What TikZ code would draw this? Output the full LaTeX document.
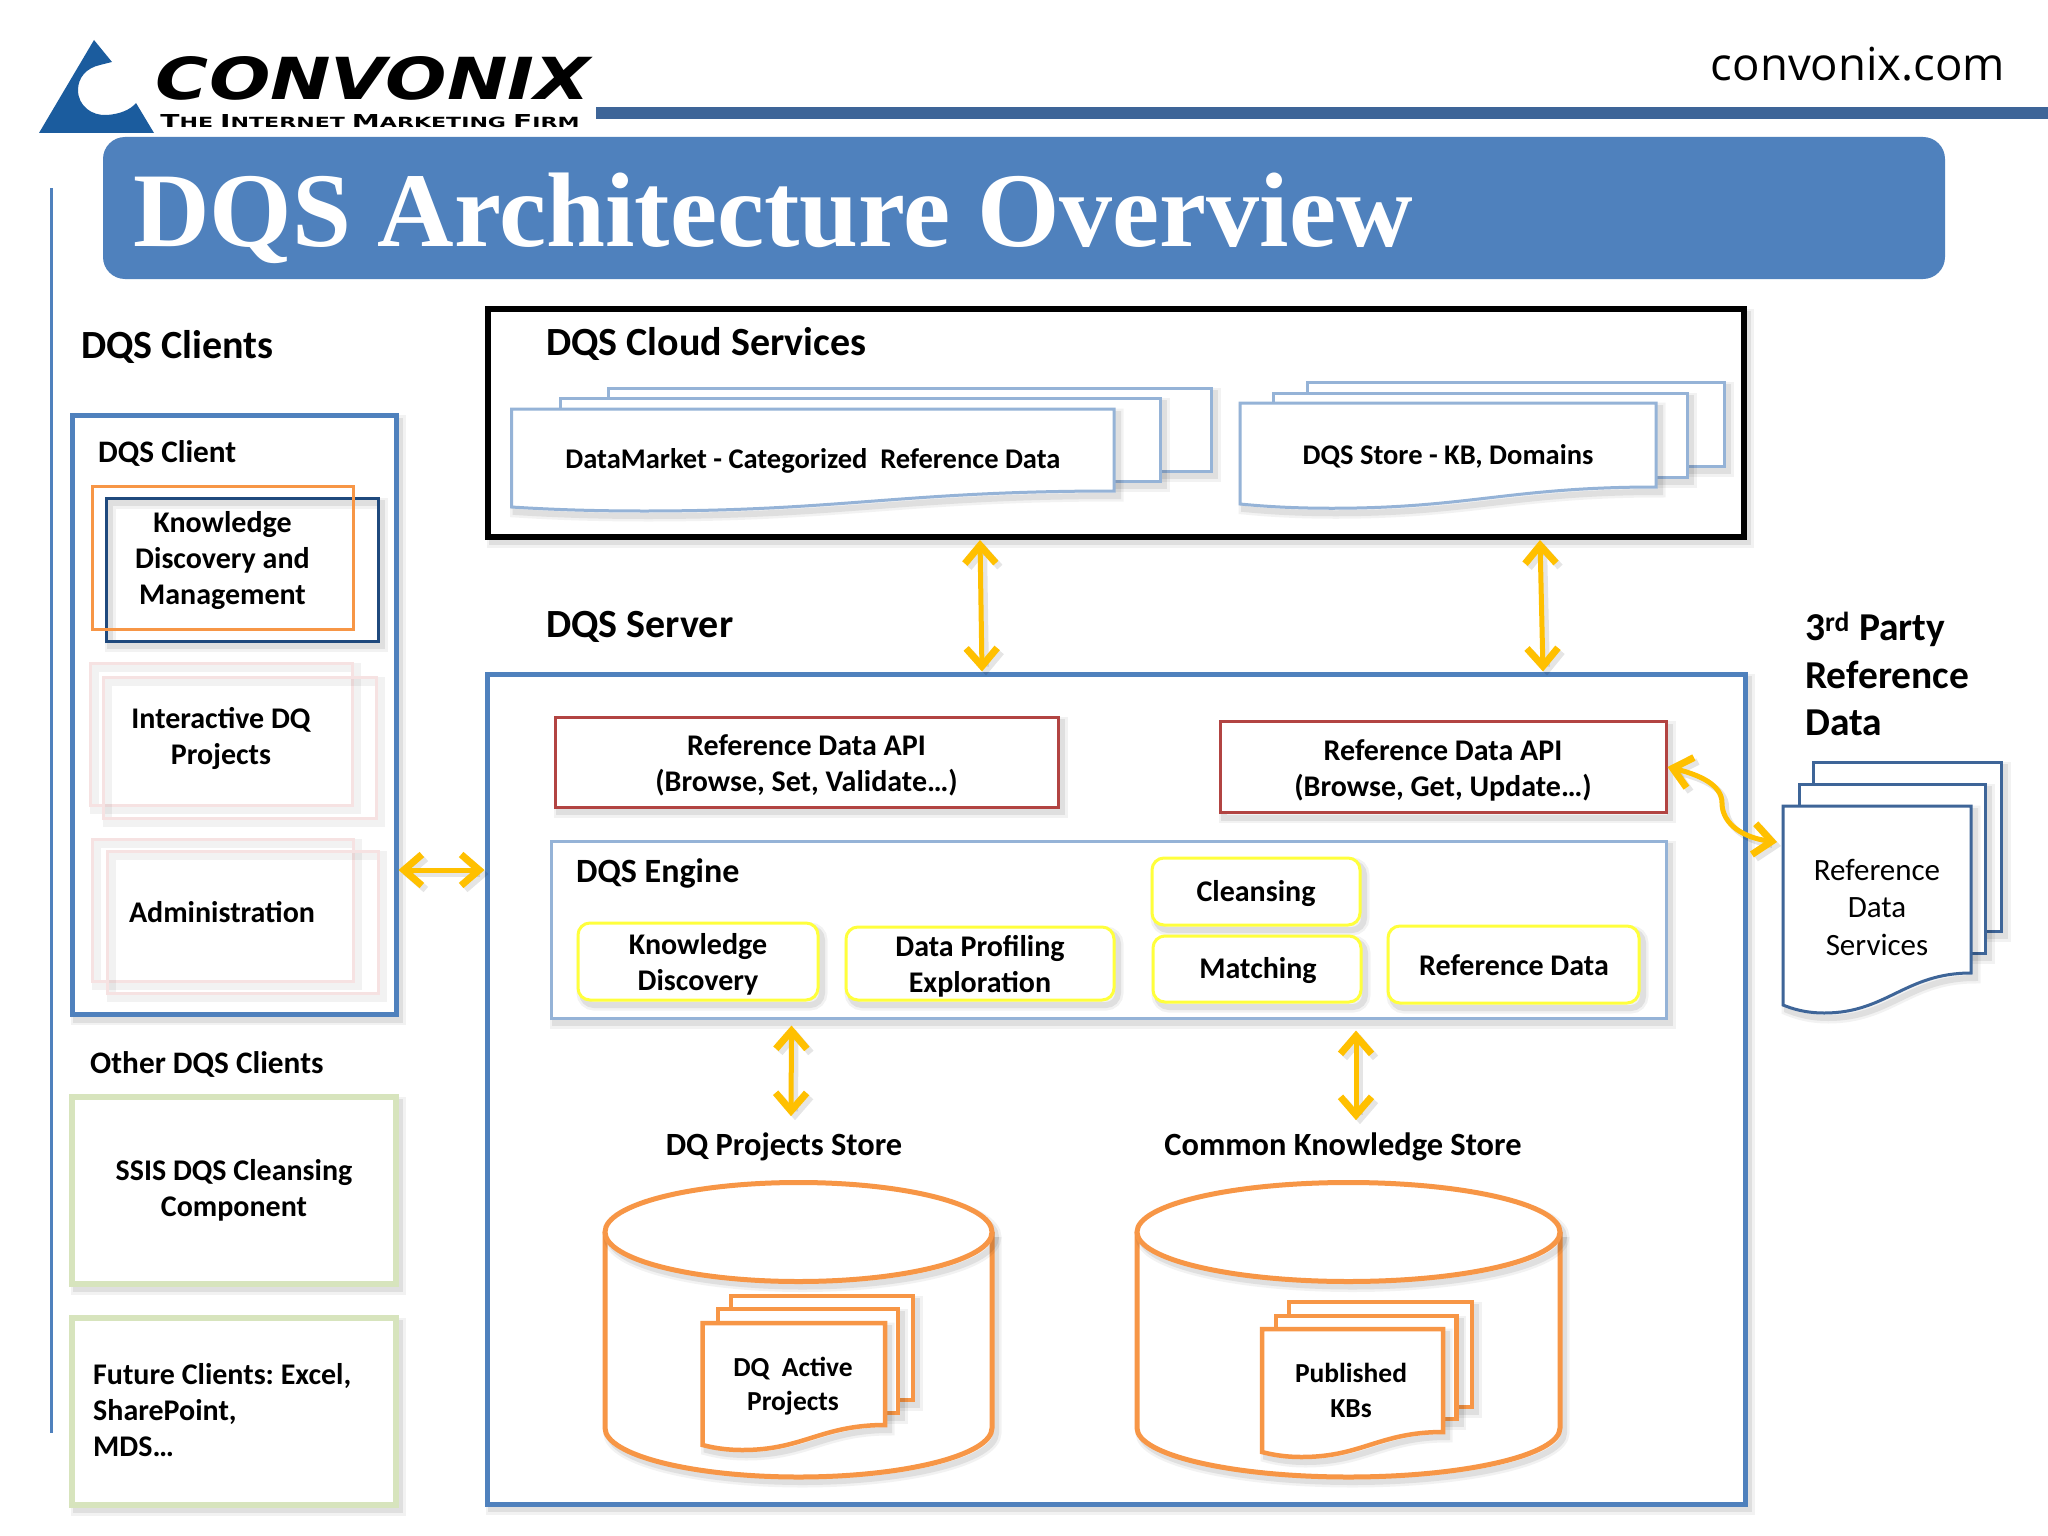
\documentclass[tikz,border=0pt]{standalone}
\usepackage{fontspec}
\setmainfont{Carlito}
\newfontfamily\titlefont{Liberation Serif}
\newfontfamily\sitefont{Open Sans}
\newfontfamily\logofont{DejaVu Sans}
\usetikzlibrary{arrows.meta}
\definecolor{B}{RGB}{79, 129, 189}
\definecolor{H}{RGB}{62, 101, 152}
\definecolor{N}{RGB}{31, 73, 125}
\definecolor{L}{RGB}{149, 179, 215}
\definecolor{O}{RGB}{247, 150, 70}
\definecolor{R}{RGB}{178, 68, 66}
\definecolor{Y}{RGB}{255, 255, 60}
\definecolor{G}{RGB}{215, 228, 189}
\definecolor{P}{RGB}{246, 226, 226}
\definecolor{A}{RGB}{255, 192, 0}
\definecolor{T}{RGB}{27, 92, 158}
\tikzset{
  softshade/.style={
    preaction={draw=black,draw opacity=.05,line width=11pt,transform canvas={xshift=4pt,yshift=-5pt}},
    preaction={draw=black,draw opacity=.08,line width=6pt,transform canvas={xshift=4pt,yshift=-5pt}}},
  paleshade/.style={
    preaction={draw=black,draw opacity=.05,line width=9pt,transform canvas={xshift=4pt,yshift=-4pt}}},
  headlbl/.style={font=\bfseries\fontsize{40}{47}\selectfont,inner sep=0pt,anchor=west,align=left},
  sublbl/.style={font=\bfseries\fontsize{31.3}{38}\selectfont,inner sep=0pt},
  storelbl/.style={font=\bfseries\fontsize{32.4}{38}\selectfont,inner sep=0pt},
  boxlbl/.style={font=\bfseries\fontsize{30}{36}\selectfont,align=center,inner sep=0pt},
  doclbl/.style={font=\bfseries\fontsize{28.5}{34}\selectfont,align=center,inner sep=0pt},
  framebox/.style={draw=B,line width=5pt,softshade,fill=white},
  clientpage/.style={draw=P,line width=3pt,paleshade},
  greenbox/.style={draw=G,line width=6pt,softshade,fill=white},
  apibox/.style={draw=R,line width=3pt,softshade,fill=white},
  yellowbox/.style={draw=Y,line width=3pt,rounded corners=12pt,softshade,fill=white},
  lightsheet/.style={draw=L,line width=3pt,softshade,fill=white},
  navysheet/.style={draw=H,line width=3pt,softshade,fill=white},
  orangesheet/.style={draw=O,line width=4.5pt,softshade,fill=white},
  storeline/.style={draw=O,line width=5pt,softshade,fill=white},
  bothways/.style={draw=A,line width=5pt,line cap=round,
    preaction={draw=black,draw opacity=.1,line width=6pt,transform canvas={xshift=4pt,yshift=-4pt}},
    {Straight Barb[length=18pt,width=31pt,line width=7pt]}-{Straight Barb[length=18pt,width=31pt,line width=7pt]}}
}
\newcommand{\docfront}[6]{
  \draw[#1] (#2,#3) -- (#4,#3) -- (#4,#5)
    .. controls (#2+.65*#4-.65*#2,#5) and (#2+.55*#4-.55*#2,#6+.25*#6-.25*#5) .. (#2+.22*#4-.22*#2,#6+.25*#6-.25*#5)
    .. controls (#2+.12*#4-.12*#2,#6+.25*#6-.25*#5) and (#2+.05*#4-.05*#2,#6+.12*#6-.12*#5) .. (#2,#6) -- cycle;
}
\newcommand{\storecyl}[2]{
  \draw[storeline] (#1-#2,1232) -- (#1-#2,1428)
    .. controls (#1-#2,1455) and (#1-.55*#2,1477) .. (#1,1477)
    .. controls (#1+.55*#2,1477) and (#1+#2,1455) .. (#1+#2,1428) -- (#1+#2,1232);
  \draw[storeline] (#1,1232) ellipse [x radius=#2,y radius=49.5];
}
\newcommand{\tagword}[2]{{\fontsize{14}{14}\selectfont #1}{\fontsize{11}{11}\selectfont #2}}
\begin{document}
\frenchspacing
\begin{tikzpicture}[x=1pt,y=-1pt]
  \useasboundingbox[fill=white] (0,0) rectangle (2048,1536);
  \fill[T] (94,40) -- (112,62) -- (100,65) .. controls (86,68) and (78,78) .. (78,90)
    .. controls (78,106) and (92,116) .. (107,115) .. controls (120,114) and (130,110) .. (136,103) -- (154,133) -- (39,133) -- cycle;
  \node[inner sep=0pt] (logotext) at (373,78) {\resizebox{434pt}{43pt}{\logofont\bfseries\itshape CONVONIX}};
  \node[inner sep=0pt] (logotag) at (370,121) {\resizebox{419pt}{13pt}{\logofont\bfseries\tagword{T}{HE} \tagword{I}{NTERNET} \tagword{M}{ARKETING} \tagword{F}{IRM}}};
  \fill[H] (596,107) rectangle (2048,119);
  \node[font=\sitefont\fontsize{45.5}{50}\selectfont,inner sep=0pt] (site) at (1858,64) {convonix.com};
  \draw[B,line width=3pt] (51,188) -- (51,1433);
  \fill[B,rounded corners=22pt] (103,137) rectangle (1945,279);
  \node[font=\titlefont\bfseries\fontsize{106}{120}\selectfont,text=white,inner sep=0pt,anchor=west] (title) at (133,218) {DQS Architecture Overview};

  \node[headlbl] (clientshead) at (81,346.5) {DQS Clients};
  \node[framebox,minimum width=324pt,minimum height=599pt] (clientbox) at (234,715) {};
  \node[sublbl,anchor=west] (clienthead) at (98,453.5) {DQS Client};
  \node[draw=N,line width=3pt,softshade,minimum width=272pt,minimum height=143pt] (kdmback) at (242,569.5) {};
  \node[draw=O,line width=3pt,minimum width=261pt,minimum height=143pt] (kdm) at (222.5,557.5) {};
  \node[boxlbl] (kdmlbl) at (222.5,561) {Knowledge\\Discovery and\\Management};
  \node[clientpage,minimum width=262pt,minimum height=142pt] (idqa) at (221,734) {};
  \node[clientpage,minimum width=273pt,minimum height=141pt] (idqb) at (239.5,747.5) {};
  \node[boxlbl] (idqlbl) at (221,738) {Interactive DQ\\Projects};
  \node[clientpage,minimum width=261pt,minimum height=142pt] (adma) at (222.5,910) {};
  \node[clientpage,minimum width=271pt,minimum height=142pt] (admb) at (242.5,922) {};
  \node[boxlbl] (admlbl) at (222,912) {Administration};

  \node[sublbl,anchor=west] (otherhead) at (90,1064) {Other DQS Clients};
  \node[greenbox,boxlbl,minimum width=324pt,minimum height=187pt] (ssis) at (234,1190.5) {SSIS DQS Cleansing\\Component};
  \node[greenbox,minimum width=324pt,minimum height=187pt] (future) at (234,1411.5) {};
  \node[boxlbl,align=left,anchor=west] (futurelbl) at (93,1410.5) {Future Clients: Excel,\\SharePoint,\\MDS\ldots};

  \node[draw=black,line width=6pt,softshade,fill=white,minimum width=1256pt,minimum height=228pt] (cloudbox) at (1116,423) {};
  \node[headlbl] (cloudhead) at (546,343.5) {DQS Cloud Services};
  \foreach \l/\t/\r/\b in {608/388/1211/471,560/398/1160/481,1307/382/1724/466,1273.5/393/1687/477}
    \draw[lightsheet] (\l,\t) rectangle (\r,\b);
  \docfront{lightsheet}{511.5}{409}{1114}{491}{507}
  \docfront{lightsheet}{1240}{403}{1656}{487}{504}
  \node[doclbl] (marketlbl) at (813,461) {DataMarket - Categorized\ \ Reference Data};
  \node[doclbl] (kbstorelbl) at (1448,456) {DQS Store - KB, Domains};

  \node[headlbl] (serverhead) at (546,626.5) {DQS Server};
  \node[framebox,minimum width=1258pt,minimum height=830pt] (serverbox) at (1116,1089) {};
  \node[apibox,minimum width=503pt,minimum height=90pt] (apileft) at (806.5,762) {};
  \node[boxlbl] (apileftlbl) at (806.5,765) {Reference Data API\\(Browse, Set, Validate\ldots)};
  \node[apibox,minimum width=446pt,minimum height=91pt] (apiright) at (1443,767) {};
  \node[boxlbl] (apirightlbl) at (1443,770.5) {Reference Data API\\(Browse, Get, Update\ldots)};
  \node[lightsheet,minimum width=1115pt,minimum height=177pt] (enginebox) at (1108.5,929.5) {};
  \node[headlbl,font=\bfseries\fontsize{34}{40}\selectfont] (enginehead) at (576,873.5) {DQS Engine};
  \node[yellowbox,minimum width=240pt,minimum height=77pt] (kdisc) at (698,961.5) {};
  \node[boxlbl] (kdisclbl) at (698,964) {Knowledge\\Discovery};
  \node[yellowbox,minimum width=268pt,minimum height=73pt] (dprof) at (980,963.5) {};
  \node[boxlbl] (dproflbl) at (980,966) {Data Profiling\\Exploration};
  \node[yellowbox,minimum width=208pt,minimum height=67pt] (cleans) at (1256,891.5) {};
  \node[boxlbl] (cleanslbl) at (1256,894) {Cleansing};
  \node[yellowbox,minimum width=208pt,minimum height=66pt] (match) at (1257,969) {};
  \node[boxlbl] (matchlbl) at (1258,971) {Matching};
  \node[yellowbox,minimum width=251pt,minimum height=77pt] (refdata) at (1513.5,964.5) {};
  \node[boxlbl] (refdatalbl) at (1514,965.5) {Reference Data};

  \node[storelbl] (dqstorelbl) at (784,1146.5) {DQ Projects Store};
  \node[storelbl] (ckstorelbl) at (1343,1146.5) {Common Knowledge Store};
  \storecyl{798.5}{193.5}
  \storecyl{1348.5}{211.5}
  \foreach \l/\t/\r/\b in {731/1296/913/1400,718/1309/898/1413,1289/1302/1472/1407,1276/1316/1456.5/1419}
    \draw[orangesheet] (\l,\t) rectangle (\r,\b);
  \docfront{orangesheet}{702.6}{1323}{885}{1425}{1445}
  \docfront{orangesheet}{1262}{1329}{1443}{1432}{1452}
  \node[doclbl,font=\bfseries\fontsize{27.5}{34}\selectfont] (activelbl) at (793,1386) {DQ\ \ Active\\Projects};
  \node[doclbl,font=\bfseries\fontsize{27.5}{35}\selectfont] (publishedlbl) at (1351,1390.5) {Published\\KBs};

  \node[headlbl,font=\bfseries\fontsize{39.5}{47.5}\selectfont] (partyhead) at (1805,674) {3\textsuperscript{rd} Party\\Reference\\Data};
  \foreach \l/\t/\r/\b in {1813/762/2001/931,1799/784/1985/953}
    \draw[navysheet] (\l,\t) rectangle (\r,\b);
  \docfront{navysheet}{1783}{806}{1971}{973}{1005}
  \node[font=\fontsize{31}{37.5}\selectfont,align=center,inner sep=0pt] (svclbl) at (1877,907) {Reference\\Data\\Services};
  \coordinate (svcport) at (1777,842);

  \draw[bothways] ([yshift=-155pt]clientbox.east) -- ([yshift=219pt]serverbox.west);
  \draw[bothways] ([xshift=-136pt]cloudbox.south) -- ([xshift=-134pt]serverbox.north);
  \draw[bothways] ([xshift=424pt]cloudbox.south) -- ([xshift=427pt]serverbox.north);
  \draw[bothways] ([shift={(-317pt,-6pt)}]enginebox.south) -- ([shift={(7pt,16pt)}]dqstorelbl.north);
  \draw[bothways] ([shift={(247.5pt,-11pt)}]enginebox.south) -- ([shift={(13pt,12pt)}]ckstorelbl.north);
  \draw[bothways] (apiright.east) .. controls (1700,775) and (1722,785) .. (1722,803)
    .. controls (1722,825) and (1745,838) .. (svcport);
\end{tikzpicture}
\end{document}
